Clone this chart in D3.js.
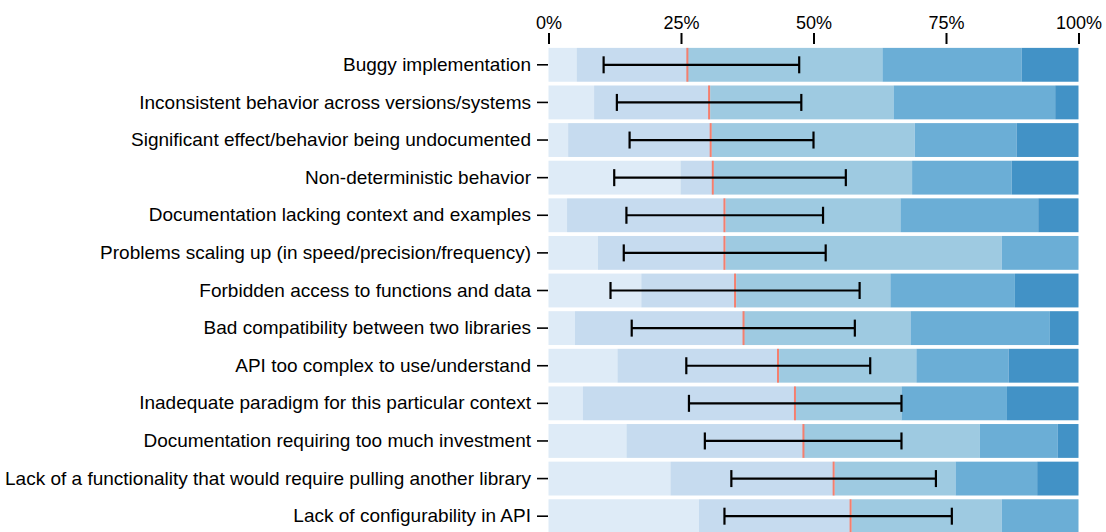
<!DOCTYPE html>
<html>
<head>
<meta charset="utf-8">
<script src="https://cdn.jsdelivr.net/npm/d3@7"></script>
<style>
  body { margin: 0; background: #fff; }
  #chart { width: 1106px; height: 532px; }
  .axis text { font-family: "Liberation Sans", Arial, sans-serif; font-size: 18px; fill: #000; }
  .axis.left text { font-size: 19px; }
  .axis line { stroke: #000; }
</style>
</head>
<body>
<div id="chart"></div>
<script>

// Categories (top to bottom)
var categories = [
    "Buggy implementation",
    "Inconsistent behavior across versions/systems",
    "Significant effect/behavior being undocumented",
    "Non-deterministic behavior",
    "Documentation lacking context and examples",
    "Problems scaling up (in speed/precision/frequency)",
    "Forbidden access to functions and data",
    "Bad compatibility between two libraries",
    "API too complex to use/understand",
    "Inadequate paradigm for this particular context",
    "Documentation requiring too much investment",
    "Lack of a functionality that would require pulling another library",
    "Lack of configurability in API"
];

// Share of answers (%) per level, lightest to darkest
var level1 = [5.3, 8.6, 3.7, 24.9, 3.5, 9.3, 17.5, 5.0, 13.0, 6.5, 14.7, 23.0, 28.4];
var level2 = [21.0, 21.9, 27.1, 6.3, 29.9, 24.1, 17.9, 31.9, 30.5, 40.2, 33.5, 31.0, 28.8];
var level3 = [36.7, 34.6, 38.3, 37.4, 33.0, 52.1, 29.1, 31.4, 25.9, 19.9, 33.2, 22.8, 28.3];
var level4 = [26.3, 30.5, 19.2, 18.8, 26.0, 14.5, 23.5, 26.3, 17.4, 19.9, 14.7, 15.4, 14.5];
var level5 = [10.7, 4.4, 11.7, 12.6, 7.6, 0.0, 12.0, 5.4, 13.2, 13.5, 3.9, 7.8, 0.0];

// Median line and interval (%)
var medians = [26.2, 30.3, 30.6, 31.0, 33.2, 33.2, 35.2, 36.8, 43.3, 46.5, 48.1, 53.8, 57.0];
var errLow  = [10.4, 12.9, 15.3, 12.4, 14.7, 14.2, 11.7, 15.7, 26.0, 26.5, 29.5, 34.5, 33.2];
var errHigh = [47.3, 47.7, 50.0, 56.1, 51.8, 52.3, 58.7, 57.8, 60.7, 66.6, 66.6, 73.1, 76.1];

var xTicks = [0, 25, 50, 75, 100];

var levels = ["l1", "l2", "l3", "l4", "l5"];
var colors = d3.schemeBlues[9].slice(1, 6);

// build rows for the stack
var rows = categories.map(function(c, i) {
    return {name: c, l1: level1[i], l2: level2[i], l3: level3[i], l4: level4[i], l5: level5[i],
            median: medians[i], lo: errLow[i], hi: errHigh[i]};
});

var width = 1106, height = 532;
var svg = d3.select("#chart").append("svg")
    .attr("width", width)
    .attr("height", height);

var x = d3.scaleLinear()
    .domain([0, 100])
    .range([548.5, 1078.5]);

var y = d3.scaleBand()
    .domain(categories)
    .range([46, 535])
    .paddingInner(0.1)
    .paddingOuter(0.05);

// Stacked bars
var series = d3.stack().keys(levels)(rows);

svg.append("g")
    .selectAll("g")
    .data(series)
    .enter()
    .append("g")
    .attr("fill", function(d, i) { return colors[i]; })
    .selectAll("rect")
    .data(function(d) { return d; })
    .enter()
    .append("rect")
    .attr("x", d => x(d[0]))
    .attr("y", d => y(d.data.name))
    .attr("width", d => x(d[1]) - x(d[0]))
    .attr("height", y.bandwidth());

// Median lines
svg.append("g")
    .selectAll("line")
    .data(rows)
    .enter()
    .append("line")
    .attr("x1", d => x(d.median))
    .attr("x2", d => x(d.median))
    .attr("y1", d => y(d.name))
    .attr("y2", d => y(d.name) + y.bandwidth())
    .attr("stroke", "#f47f6e")
    .attr("stroke-width", 2);

// Error bars
var capH = 8.5;
var err = svg.append("g")
    .attr("stroke", "#000")
    .attr("stroke-width", 2.2)
    .selectAll("g")
    .data(rows)
    .enter()
    .append("g");

err.append("line")
    .attr("x1", d => x(d.lo))
    .attr("x2", d => x(d.hi))
    .attr("y1", d => y(d.name) + y.bandwidth() / 2)
    .attr("y2", d => y(d.name) + y.bandwidth() / 2);

err.append("line")
    .attr("x1", d => x(d.lo))
    .attr("x2", d => x(d.lo))
    .attr("y1", d => y(d.name) + y.bandwidth() / 2 - capH)
    .attr("y2", d => y(d.name) + y.bandwidth() / 2 + capH);

err.append("line")
    .attr("x1", d => x(d.hi))
    .attr("x2", d => x(d.hi))
    .attr("y1", d => y(d.name) + y.bandwidth() / 2 - capH)
    .attr("y2", d => y(d.name) + y.bandwidth() / 2 + capH);

// Top axis
var xAxis = svg.append("g")
    .attr("class", "axis")
    .attr("transform", "translate(0,44)")
    .call(d3.axisTop(x).tickValues(xTicks).tickFormat(d => d + "%").tickSize(11).tickPadding(4));
xAxis.select(".domain").remove();
xAxis.selectAll("line").attr("stroke-width", 2);

// Left axis
var yAxis = svg.append("g")
    .attr("class", "axis left")
    .attr("transform", "translate(548,0)")
    .call(d3.axisLeft(y).tickSize(11).tickPadding(6));
yAxis.select(".domain").remove();
yAxis.selectAll("line").attr("stroke-width", 1.6);

</script>
</body>
</html>
